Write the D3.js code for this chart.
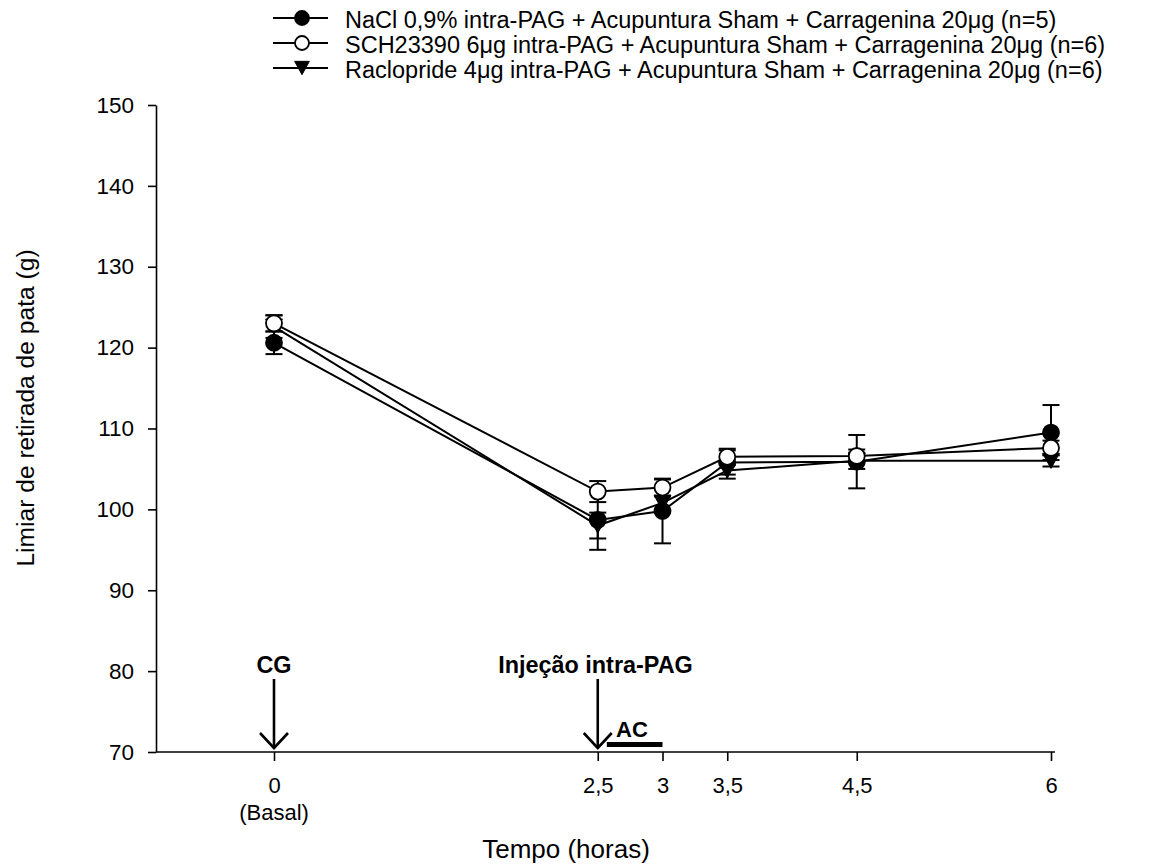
<!DOCTYPE html>
<html>
<head>
<meta charset="utf-8">
<script src="https://cdn.jsdelivr.net/npm/d3@7"></script>
<style>
  body { margin: 0; background: #fff; }
  svg { font-family: Arial, "Liberation Sans", sans-serif; }
</style>
</head>
<body>
<div id="chart"></div>
<script>
// data
var times = [0, 2.5, 3, 3.5, 4.5, 6];
var timeLabels = ["0", "2,5", "3", "3,5", "4,5", "6"];
var yTicks = [70, 80, 90, 100, 110, 120, 130, 140, 150];

var naclMean = [120.6, 98.7, 99.8, 105.8, 105.9, 109.5];
var naclErr  = [1.4, 3.7, 4.0, 1.5, 3.3, 3.4];
var schMean  = [123.0, 102.2, 102.7, 106.5, 106.6, 107.6];
var schErr   = [1.0, 1.3, 1.0, 1.0, 0.8, 0.9];
var racMean  = [122.6, 98.0, 100.8, 104.8, 106.0, 106.0];
var racErr   = [1.4, 1.6, 0.8, 1.0, 1.0, 0.7];

var seriesNames = [
  "NaCl 0,9% intra-PAG + Acupuntura Sham + Carragenina 20\u03bcg (n=5)",
  "SCH23390 6\u03bcg intra-PAG + Acupuntura Sham + Carragenina 20\u03bcg (n=6)",
  "Raclopride 4\u03bcg intra-PAG + Acupuntura Sham + Carragenina 20\u03bcg (n=6)"
];
var seriesMarkers = ["filled", "open", "triangle"];

var series = [
  {name: seriesNames[0], marker: seriesMarkers[0], mean: naclMean, err: naclErr},
  {name: seriesNames[1], marker: seriesMarkers[1], mean: schMean, err: schErr},
  {name: seriesNames[2], marker: seriesMarkers[2], mean: racMean, err: racErr}
];
// open circles sit on top in the figure
var drawOrder = [0, 2, 1];

var W = 1166, H = 867;
var svg = d3.select("#chart").append("svg")
  .attr("width", W).attr("height", H);

// scales
var x = d3.scaleLinear().domain([0, 6]).range([274, 1051]);
var y = d3.scaleLinear().domain([70, 150]).range([752, 105]);
var xLeft = 156, xRight = 1055;

// axes
var yAxis = svg.append("g")
  .attr("transform", "translate(" + xLeft + ",0)")
  .call(d3.axisLeft(y).tickValues(yTicks).tickSize(8).tickPadding(14).tickSizeOuter(0));
yAxis.select(".domain").attr("stroke-width", 1.6);
yAxis.selectAll(".tick line").attr("stroke-width", 1.6);
yAxis.selectAll(".tick text").style("font-size", "22.5px").attr("fill", "#000");

var xAxis = svg.append("g")
  .attr("transform", "translate(0," + y(70) + ")")
  .call(d3.axisBottom(x).tickValues(times).tickFormat(function(d, i) { return timeLabels[i]; })
    .tickSize(9).tickPadding(16).tickSizeOuter(0));
xAxis.select(".domain").remove();
xAxis.append("line").attr("x1", xLeft).attr("x2", xRight).attr("stroke", "#000").attr("stroke-width", 1.6);
xAxis.selectAll(".tick line").attr("stroke-width", 1.6);
xAxis.selectAll(".tick text").style("font-size", "22px").attr("fill", "#000");

svg.append("text")
  .attr("x", x(0)).attr("y", 820)
  .attr("text-anchor", "middle").style("font-size", "22px")
  .text("(Basal)");

// axis titles
svg.append("text")
  .attr("x", 566).attr("y", 858)
  .attr("text-anchor", "middle").style("font-size", "26px")
  .text("Tempo (horas)");

svg.append("text")
  .attr("transform", "translate(34," + 408 + ") rotate(-90)")
  .attr("text-anchor", "middle").style("font-size", "24.6px")
  .text("Limiar de retirada de pata (g)");

// marker drawing
var r = 8;
function drawMarker(g, type, cx, cy, rad) {
  if (type === "triangle") {
    var h = rad * 1.9;
    g.append("path")
      .attr("d", "M" + (cx - rad * 1.05) + "," + (cy - h / 2) + "L" + (cx + rad * 1.05) + "," + (cy - h / 2) + "L" + cx + "," + (cy + h / 2) + "Z")
      .attr("fill", "#000").attr("stroke", "#000").attr("stroke-width", 1);
  } else {
    g.append("circle")
      .attr("cx", cx).attr("cy", cy).attr("r", rad)
      .attr("fill", type === "open" ? "#fff" : "#000")
      .attr("stroke", "#000").attr("stroke-width", 1.8);
  }
}

var line = d3.line()
  .x(function(d) { return x(d.t); })
  .y(function(d) { return y(d.v); });

series.forEach(function(s) {
  var pts = times.map(function(t, i) { return {t: t, v: s.mean[i], e: s.err[i]}; });
  svg.append("path")
    .attr("d", line(pts))
    .attr("fill", "none").attr("stroke", "#000").attr("stroke-width", 2);
});

drawOrder.forEach(function(k) {
  var s = series[k];
  var pts = times.map(function(t, i) { return {t: t, v: s.mean[i], e: s.err[i]}; });
  var g = svg.append("g");
  pts.forEach(function(d) {
    var cx = x(d.t);
    g.append("line")
      .attr("x1", cx).attr("x2", cx)
      .attr("y1", y(d.v - d.e)).attr("y2", y(d.v + d.e))
      .attr("stroke", "#000").attr("stroke-width", 2);
    [d.v - d.e, d.v + d.e].forEach(function(v) {
      g.append("line")
        .attr("x1", cx - 8.5).attr("x2", cx + 8.5)
        .attr("y1", y(v)).attr("y2", y(v))
        .attr("stroke", "#000").attr("stroke-width", 2);
    });
    drawMarker(g, s.marker, cx, y(d.v), r);
  });
});

// legend
var legend = svg.append("g");
var legendY = [18, 43, 68];
series.forEach(function(s, i) {
  var ly = legendY[i];
  legend.append("line")
    .attr("x1", 273).attr("x2", 328).attr("y1", ly).attr("y2", ly)
    .attr("stroke", "#000").attr("stroke-width", 2);
  drawMarker(legend, s.marker, 302, ly, 7);
  legend.append("text")
    .attr("x", 345).attr("y", ly + 9.5)
    .style("font-size", "23.5px")
    .text(s.name);
});

// annotations
function arrow(xv, label, tx) {
  var ax = x(xv);
  svg.append("line").attr("x1", ax).attr("x2", ax).attr("y1", 679).attr("y2", 748)
    .attr("stroke", "#000").attr("stroke-width", 2.6);
  svg.append("path")
    .attr("d", "M" + (ax - 14) + ",733L" + ax + ",748L" + (ax + 14) + ",733")
    .attr("fill", "none").attr("stroke", "#000").attr("stroke-width", 2.6);
  svg.append("text")
    .attr("x", tx).attr("y", 673)
    .attr("text-anchor", "middle")
    .style("font-size", "23.4px").style("font-weight", "bold")
    .text(label);
}
arrow(0, "CG", x(0));
arrow(2.5, "Injeção intra-PAG", 595.5);

svg.append("rect")
  .attr("x", x(2.57)).attr("width", x(3) - x(2.57))
  .attr("y", 742).attr("height", 5).attr("fill", "#000");
svg.append("text")
  .attr("x", 632).attr("y", 737)
  .attr("text-anchor", "middle")
  .style("font-size", "22px").style("font-weight", "bold")
  .text("AC");
</script>
</body>
</html>
